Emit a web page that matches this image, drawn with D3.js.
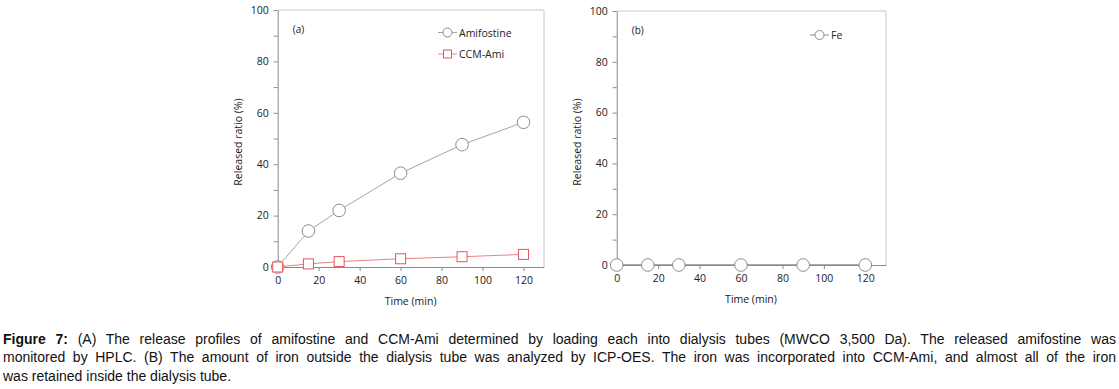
<!DOCTYPE html>
<html>
<head>
<meta charset="utf-8">
<script src="https://cdn.jsdelivr.net/npm/d3@7"></script>
<style>
  body { margin: 0; background: #fff; width: 1119px; height: 389px; position: relative; overflow: hidden; }
  svg { position: absolute; left: 0; top: 0; }
  .caption { position: absolute; left: 3px; top: 330px; width: 1113px; font-family: "Liberation Sans", Arial, sans-serif;
    font-size: 14px; line-height: 18.3px; color: #111; }
  .caption div { text-align: justify; text-align-last: justify; white-space: nowrap; }
  .caption div.last { text-align-last: left; }
</style>
</head>
<body>
<script>
// data
var times = [0, 15, 30, 60, 90, 120];
var amifostine = [0, 14, 22, 36.5, 47.6, 56.3];
var ccmAmi = [0, 1.2, 2.1, 3.2, 4.0, 4.9];
var fe = [0, 0, 0, 0, 0, 0];
var xTicks = [0, 20, 40, 60, 80, 100, 120];
var yTicks = [0, 20, 40, 60, 80, 100];
var captionLines = [
    "(A) The release profiles of amifostine and CCM-Ami determined by loading each into dialysis tubes (MWCO 3,500 Da). The released amifostine was",
    "monitored by HPLC. (B) The amount of iron outside the dialysis tube was analyzed by ICP-OES. The iron was incorporated into CCM-Ami, and almost all of the iron",
    "was retained inside the dialysis tube."
];

var font = "'Open Sans', sans-serif";
var axisColor = "#8a8a8a";
var frameColor = "#c8c8c8";

var svg = d3.select("body").append("svg")
    .attr("width", 1119)
    .attr("height", 389);

function drawPanel(box, tag, series) {
    var x = d3.scaleLinear().domain([0, 130]).range([box.left, box.right]);
    var y = d3.scaleLinear().domain([0, 100]).range([box.bottom, box.top]);
    var g = svg.append("g");

    // frame (top/right lighter)
    g.append("line").attr("x1", x(0)).attr("x2", x(130)).attr("y1", y(100)).attr("y2", y(100))
        .attr("stroke", frameColor);
    g.append("line").attr("x1", x(130)).attr("x2", x(130)).attr("y1", y(100)).attr("y2", y(0))
        .attr("stroke", frameColor);

    // y axis with minor ticks
    g.append("g").attr("transform", "translate(" + x(0) + ",0)")
        .call(d3.axisLeft(y).tickValues(d3.range(10, 100, 20)).tickSize(4).tickFormat(""))
        .call(a => a.select(".domain").remove())
        .selectAll("line").attr("stroke", axisColor);
    var yAxis = g.append("g").attr("transform", "translate(" + x(0) + ",0)")
        .call(d3.axisLeft(y).tickValues(yTicks).tickSize(4).tickSizeOuter(0).tickPadding(5));
    yAxis.select(".domain").attr("stroke", axisColor);
    yAxis.selectAll("line").attr("stroke", axisColor);
    yAxis.selectAll("text").style("font-family", font).style("font-size", "10.5px").attr("fill", "#222");

    var xAxis = g.append("g").attr("transform", "translate(0," + y(0) + ")")
        .call(d3.axisBottom(x).tickValues(xTicks).tickSize(4).tickSizeOuter(0).tickPadding(6));
    xAxis.select(".domain").attr("stroke", axisColor);
    xAxis.selectAll("line").attr("stroke", axisColor);
    xAxis.selectAll("text").style("font-family", font).style("font-size", "10.5px").attr("fill", "#222");

    g.append("text")
        .attr("x", x(60) + 10)
        .attr("y", box.bottom + 38)
        .attr("text-anchor", "middle")
        .style("font-family", font).style("font-size", "10.5px").attr("fill", "#222")
        .text("Time (min)");

    g.append("text")
        .attr("transform", "rotate(-90)")
        .attr("x", -142)
        .attr("y", box.left - 36)
        .attr("text-anchor", "middle")
        .style("font-family", font).style("font-size", "10.5px").attr("fill", "#222")
        .text("Released ratio (%)");

    g.append("text")
        .attr("x", box.left + 15)
        .attr("y", box.top + 23)
        .style("font-family", font).style("font-size", "10px").attr("fill", "#222")
        .text(tag);

    var line = d3.line().x(function (d, i) { return x(times[i]); }).y(function (d) { return y(d); });

    series.forEach(function (s, k) {
        g.append("path").datum(s.values)
            .attr("d", line)
            .attr("fill", "none")
            .attr("stroke", s.line)
            .attr("stroke-width", s.width);

        if (s.shape === "circle") {
            g.selectAll(".c" + k).data(s.values).enter().append("circle")
                .attr("cx", function (d, i) { return x(times[i]); })
                .attr("cy", function (d) { return y(d); })
                .attr("r", 6.3)
                .attr("fill", "#fff")
                .attr("stroke", s.stroke);
        } else {
            g.selectAll(".s" + k).data(s.values).enter().append("rect")
                .attr("x", function (d, i) { return x(times[i]) - 5; })
                .attr("y", function (d) { return y(d) - 5; })
                .attr("width", 10).attr("height", 10)
                .attr("fill", "#fff")
                .attr("stroke", s.stroke);
        }

        // legend
        var ly = box.legendY + k * 21.5;
        var lx = box.legendX;
        g.append("line").attr("x1", lx).attr("x2", lx + 19).attr("y1", ly).attr("y2", ly)
            .attr("stroke", s.line);
        if (s.shape === "circle") {
            g.append("circle").attr("cx", lx + 9.5).attr("cy", ly).attr("r", 4.5)
                .attr("fill", "#fff").attr("stroke", s.stroke);
        } else {
            g.append("rect").attr("x", lx + 5.5).attr("y", ly - 4).attr("width", 8).attr("height", 8)
                .attr("fill", "#fff").attr("stroke", s.stroke);
        }
        g.append("text").attr("x", lx + 21).attr("y", ly + 4)
            .style("font-family", font).style("font-size", "10.5px").attr("fill", "#222")
            .text(s.name);
    });
}

drawPanel({ left: 277.7, right: 544, top: 10, bottom: 267, legendX: 438, legendY: 32.5 }, "(a)", [
    { name: "Amifostine", values: amifostine, shape: "circle", line: "#a6a6a6", stroke: "#8c8c8c", width: 1 },
    { name: "CCM-Ami", values: ccmAmi, shape: "square", line: "#f08080", stroke: "#e5545a", width: 1 }
]);

drawPanel({ left: 616.7, right: 886, top: 11, bottom: 265, legendX: 810, legendY: 35 }, "(b)", [
    { name: "Fe", values: fe, shape: "circle", line: "#8c8c8c", stroke: "#8c8c8c", width: 1.6 }
]);

var cap = d3.select("body").append("div").attr("class", "caption");
captionLines.forEach(function (t, i) {
    var row = cap.append("div").classed("last", i === captionLines.length - 1);
    if (i === 0) {
        row.append("b").text("Figure 7:");
        row.append("span").text(" " + t);
    } else {
        row.text(t);
    }
});
</script>
</body>
</html>
